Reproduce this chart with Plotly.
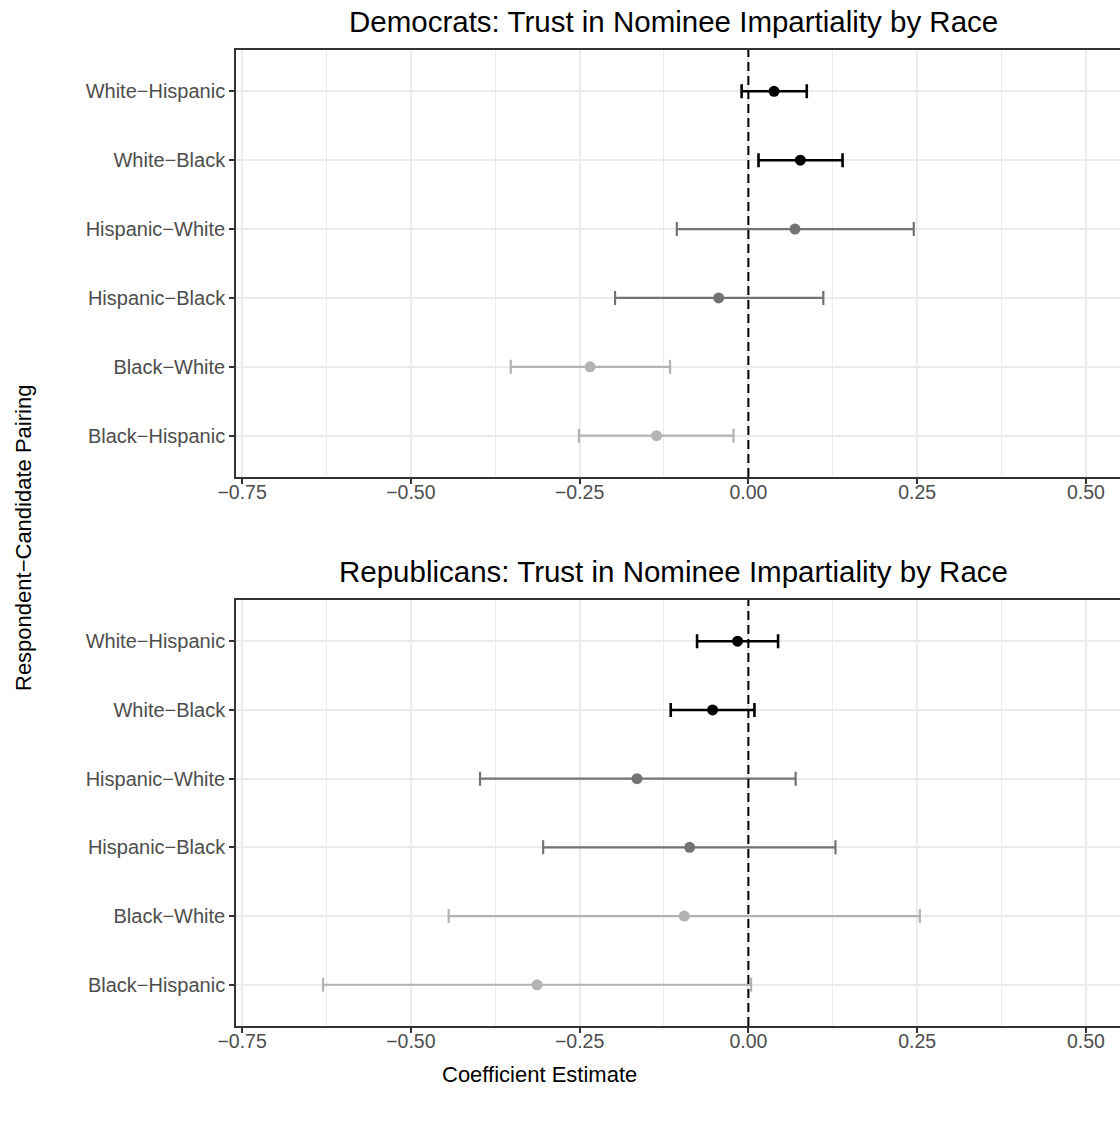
import plotly.graph_objects as go

# ---------------- data ----------------
pairings = ["Black−Hispanic", "Black−White", "Hispanic−Black",
            "Hispanic−White", "White−Black", "White−Hispanic"]
respondent = ["Black", "Black", "Hispanic", "Hispanic", "White", "White"]

dem_est = [-0.136, -0.2345, -0.044, 0.069, 0.077, 0.038]
dem_lo = [-0.251, -0.352, -0.1975, -0.106, 0.015, -0.010]
dem_hi = [-0.022, -0.116, 0.111, 0.245, 0.1395, 0.0865]

rep_est = [-0.313, -0.095, -0.087, -0.165, -0.053, -0.016]
rep_lo = [-0.630, -0.444, -0.304, -0.3975, -0.115, -0.076]
rep_hi = [0.004, 0.254, 0.129, 0.070, 0.009, 0.044]

x_ticks = [-0.75, -0.50, -0.25, 0.00, 0.25, 0.50]
x_tick_labels = ["−0.75", "−0.50", "−0.25", "0.00", "0.25", "0.50"]
x_minor = [-0.625, -0.375, -0.125, 0.125, 0.375]

titles = ["Democrats: Trust in Nominee Impartiality by Race",
          "Republicans: Trust in Nominee Impartiality by Race"]
x_title = "Coefficient Estimate"
y_title = "Respondent−Candidate Pairing"

# ---------------- style ----------------
colors = {"White": "#000000", "Hispanic": "#737373", "Black": "#B3B3B3"}
widths = {"White": 2.6, "Hispanic": 2.2, "Black": 2.2}
FONT = "Liberation Sans, Arial, Helvetica, sans-serif"

W, H = 1120, 1128
L, R, T, B = 236, 0, 50, 102
plot_h = H - T - B
def py(pix):  # pixel y -> paper y
    return (H - B - pix) / plot_h
def px(pix):
    return (pix - L) / (W - L - R)

fig = go.Figure()

panels = [
    ("x", "y", dem_est, dem_lo, dem_hi),
    ("x2", "y2", rep_est, rep_lo, rep_hi),
]

for xa, ya, est, lo, hi in panels:
    for grp in ["Black", "Hispanic", "White"]:
        idx = [i for i, r in enumerate(respondent) if r == grp]
        fig.add_trace(go.Scatter(
            x=[est[i] for i in idx],
            y=[pairings[i] for i in idx],
            mode="markers",
            marker=dict(color=colors[grp], size=11),
            error_x=dict(
                type="data", symmetric=False,
                array=[hi[i] - est[i] for i in idx],
                arrayminus=[est[i] - lo[i] for i in idx],
                color=colors[grp], thickness=widths[grp], width=7,
            ),
            xaxis=xa, yaxis=ya, showlegend=False, hoverinfo="skip",
        ))

xrange = [-0.759, 0.5505]
axis_common_x = dict(
    range=xrange, tickvals=x_ticks, ticktext=x_tick_labels,
    showgrid=True, gridcolor="#EBEBEB", gridwidth=1.7,
    minor=dict(tickvals=x_minor, showgrid=True, gridcolor="#EBEBEB",
               gridwidth=0.9, ticks=""),
    zeroline=False, showline=True, linecolor="#333333", linewidth=1.6,
    mirror=True, ticks="outside", ticklen=5, tickwidth=1.5,
    tickcolor="#333333", ticklabelstandoff=-8,
    tickfont=dict(family=FONT, size=19.5, color="#4D4D4D"),
    fixedrange=True,
)
axis_common_y = dict(
    type="category", categoryorder="array", categoryarray=pairings,
    range=[-0.6, 5.6],
    showgrid=True, gridcolor="#EBEBEB", gridwidth=1.7,
    zeroline=False, showline=True, linecolor="#333333", linewidth=1.6,
    mirror=False, ticks="outside", ticklen=5, tickwidth=1.5,
    tickcolor="#333333",
    tickfont=dict(family=FONT, size=20, color="#4D4D4D"),
    fixedrange=True,
)

top_dom = [py(477), py(50)]
bot_dom = [py(1026), py(600)]

fig.update_layout(
    width=W, height=H,
    margin=dict(l=L, r=R, t=T, b=B),
    paper_bgcolor="white", plot_bgcolor="white",
    xaxis=dict(axis_common_x, anchor="y", domain=[0, 1]),
    yaxis=dict(axis_common_y, anchor="x", domain=top_dom),
    xaxis2=dict(axis_common_x, anchor="y2", domain=[0, 1]),
    yaxis2=dict(axis_common_y, anchor="x2", domain=bot_dom),
    font=dict(family=FONT),
)

# dashed zero lines
for xa, ya in [("x", "y"), ("x2", "y2")]:
    fig.add_shape(type="line", xref=xa, yref=ya + " domain",
                  x0=0, x1=0, y0=0, y1=1,
                  line=dict(color="black", width=2, dash="9px,5px"))

# panel titles
fig.add_annotation(text=titles[0], xref="paper", yref="paper",
                   x=px(673), y=py(22), xanchor="center", yanchor="middle",
                   showarrow=False, font=dict(family=FONT, size=29.5, color="black"))
fig.add_annotation(text=titles[1], xref="paper", yref="paper",
                   x=px(673), y=py(571), xanchor="center", yanchor="middle",
                   showarrow=False, font=dict(family=FONT, size=29.5, color="black"))
# axis titles
fig.add_annotation(text=x_title, xref="paper", yref="paper",
                   x=px(539), y=py(1074), xanchor="center", yanchor="middle",
                   showarrow=False, font=dict(family=FONT, size=22, color="black"))
fig.add_annotation(text=y_title, xref="paper", yref="paper",
                   x=px(23), y=py(538), xanchor="center", yanchor="middle",
                   textangle=-90, showarrow=False,
                   font=dict(family=FONT, size=22, color="black"))

fig.write_html("out.html")
